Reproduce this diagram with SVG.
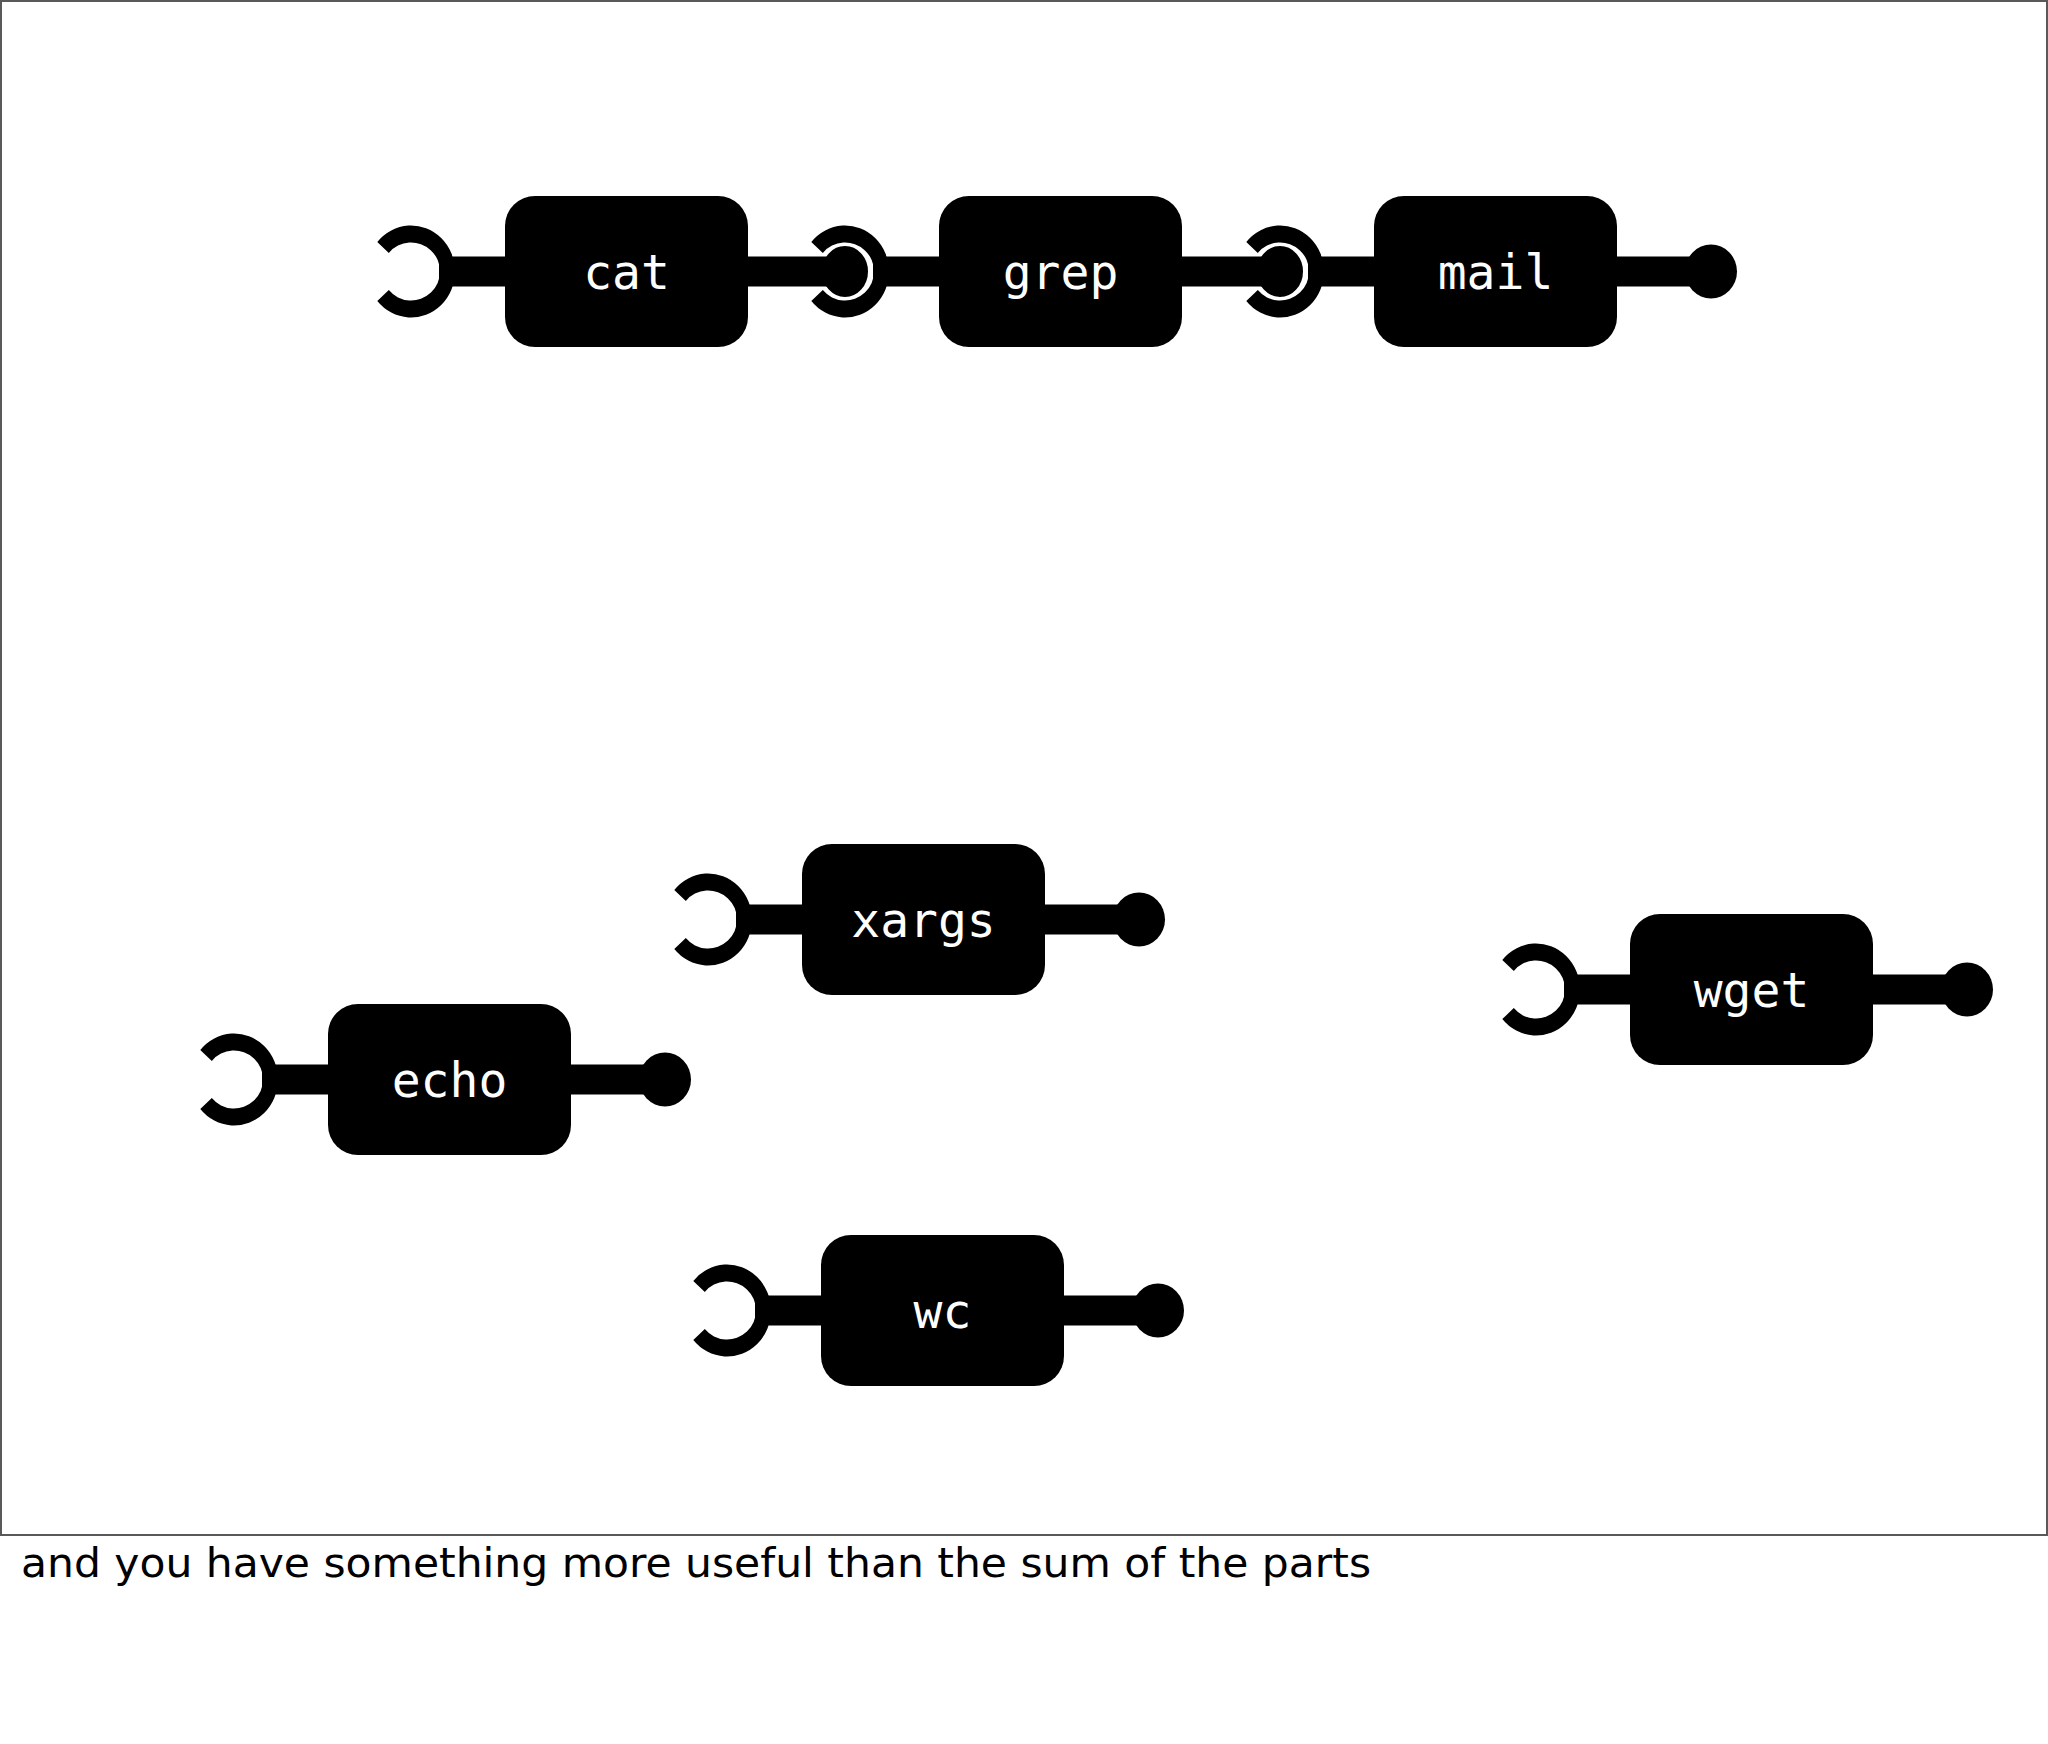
<svg xmlns="http://www.w3.org/2000/svg" xmlns:xlink="http://www.w3.org/1999/xlink" width="2048" height="1744" viewBox="0 0 2048 1744">
<style>
.box{fill:#000}
.lbl{fill:#fff;font-family:"DejaVu Sans Mono","Liberation Mono",monospace;font-size:48px;text-anchor:middle}
.bar{fill:#000}
.cap{fill:#000;font-family:"DejaVu Sans","Liberation Sans",sans-serif;font-size:40px}
</style>
<defs>
<path id="socket" d="M-33.7,-29.6 A44,46 0 1 1 -33.7,29.6 L-22.2,18.6 A29,29 0 1 0 -22.2,-18.6 Z" fill="#000"/>
<ellipse id="ball" cx="0" cy="0" rx="26" ry="27" fill="#000"/>
<ellipse id="jball" cx="0" cy="0" rx="24.5" ry="27" fill="#000" stroke="#fff" stroke-width="3"/>
</defs>
<rect x="1" y="1" width="2046" height="1534" fill="#fff" stroke="#595959" stroke-width="2"/>

<g id="cat">
<use xlink:href="#socket" x="411" y="271.5"/>
<rect class="box" x="505" y="196" width="243" height="151" rx="30"/>
<text class="lbl" x="626.5" y="289">cat</text>
<use xlink:href="#jball" x="845" y="271.5"/>
</g>
<g id="grep">
<use xlink:href="#socket" x="845" y="271.5"/>
<rect class="box" x="939" y="196" width="243" height="151" rx="30"/>
<text class="lbl" x="1060.5" y="289">grep</text>
<use xlink:href="#jball" x="1280" y="271.5"/>
</g>
<g id="mail">
<use xlink:href="#socket" x="1280" y="271.5"/>
<rect class="box" x="1374" y="196" width="243" height="151" rx="30"/>
<text class="lbl" x="1495.5" y="289">mail</text>
<use xlink:href="#ball" x="1711" y="271.5"/>
</g>
<g id="xargs">
<use xlink:href="#socket" x="708" y="919.5"/>
<rect class="box" x="802" y="844" width="243" height="151" rx="30"/>
<text class="lbl" x="923.5" y="937">xargs</text>
<use xlink:href="#ball" x="1139" y="919.5"/>
</g>
<g id="echo">
<use xlink:href="#socket" x="234" y="1079.5"/>
<rect class="box" x="328" y="1004" width="243" height="151" rx="30"/>
<text class="lbl" x="449.5" y="1097">echo</text>
<use xlink:href="#ball" x="665" y="1079.5"/>
</g>
<g id="wget">
<use xlink:href="#socket" x="1536" y="989.5"/>
<rect class="box" x="1630" y="914" width="243" height="151" rx="30"/>
<text class="lbl" x="1751.5" y="1007">wget</text>
<use xlink:href="#ball" x="1967" y="989.5"/>
</g>
<g id="wc">
<use xlink:href="#socket" x="727" y="1310.5"/>
<rect class="box" x="821" y="1235" width="243" height="151" rx="30"/>
<text class="lbl" x="942.5" y="1328">wc</text>
<use xlink:href="#ball" x="1158" y="1310.5"/>
</g>

<g id="connectors">
<rect class="bar" x="439" y="256.5" width="66" height="30"/>
<rect class="bar" x="748" y="256.5" width="97" height="30"/>
<rect class="bar" x="873" y="256.5" width="66" height="30"/>
<rect class="bar" x="1182" y="256.5" width="98" height="30"/>
<rect class="bar" x="1308" y="256.5" width="66" height="30"/>
<rect class="bar" x="1617" y="256.5" width="94" height="30"/>

<rect class="bar" x="736" y="904.5" width="66" height="30"/>
<rect class="bar" x="1045" y="904.5" width="94" height="30"/>

<rect class="bar" x="262" y="1064.5" width="66" height="30"/>
<rect class="bar" x="571" y="1064.5" width="94" height="30"/>

<rect class="bar" x="1564" y="974.5" width="66" height="30"/>
<rect class="bar" x="1873" y="974.5" width="94" height="30"/>

<rect class="bar" x="755" y="1295.5" width="66" height="30"/>
<rect class="bar" x="1064" y="1295.5" width="94" height="30"/>
</g>

<text class="cap" x="21" y="1577" textLength="1350" lengthAdjust="spacingAndGlyphs">and you have something more useful than the sum of the parts</text>
</svg>
